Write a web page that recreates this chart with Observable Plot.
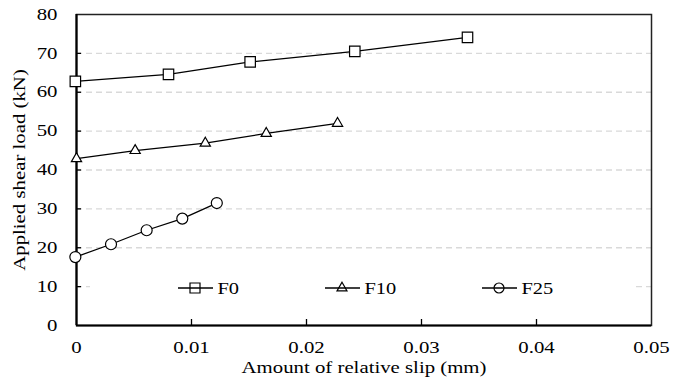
<!DOCTYPE html>
<html><head><meta charset="utf-8">
<script src="https://cdn.jsdelivr.net/npm/d3@7"></script>
<script src="https://cdn.jsdelivr.net/npm/@observablehq/plot@0.6"></script>
<style>
html,body{margin:0;padding:0;background:#fff;}
#wrap{position:relative;width:679px;height:383px;}
#legend{position:absolute;left:90px;top:274px;}
</style></head><body><div id="wrap"></div>
<script>
// ---- data ----
const seriesNames = ["F0", "F10", "F25"];
const seriesSymbols = ["square", "triangle", "circle"];
const f0Slip = [-0.0001, 0.0080, 0.0151, 0.0242, 0.0340];
const f0Load = [62.8, 64.6, 67.8, 70.5, 74.1];
const f10Slip = [0, 0.0051, 0.0112, 0.0165, 0.0227];
const f10Load = [42.9, 45.0, 46.9, 49.4, 52.0];
const f25Slip = [-0.0001, 0.0030, 0.0061, 0.0092, 0.0122];
const f25Load = [17.6, 20.9, 24.5, 27.5, 31.5];
const xTicks = [0, 0.01, 0.02, 0.03, 0.04, 0.05];
const xTickLabels = ["0", "0.01", "0.02", "0.03", "0.04", "0.05"];
const yTicks = [0, 10, 20, 30, 40, 50, 60, 70, 80];
const yTickLabels = ["0", "10", "20", "30", "40", "50", "60", "70", "80"];
const xTitle = "Amount of relative slip (mm)";
const yTitle = "Applied shear load (kN)";

// ---- table ----
const rows = [];
[[f0Slip, f0Load], [f10Slip, f10Load], [f25Slip, f25Load]].forEach(([xs, ys], i) =>
  xs.forEach((x, j) => rows.push({series: seriesNames[i], slip: x, load: ys[j]})));

const W = 679, H = 383, mL = 76, mR = 28, mT = 14, mB = 58;
const font = "'Liberation Serif', 'Times New Roman', serif";
const dotR = {square: 5.9, triangle: 3.8, circle: 5.5};
const inner = v => v > yTicks[0] && v < yTicks[yTicks.length - 1];
const innerX = v => v > xTicks[0] && v < xTicks[xTicks.length - 1];
const txt = {fontSize: 16, fill: "#000", lineAnchor: "middle"};

const chart = Plot.plot({
  width: W, height: H,
  marginLeft: mL, marginRight: mR, marginTop: mT, marginBottom: mB,
  style: {fontFamily: font, fontSize: "16px", background: "#fff", color: "#000"},
  x: {domain: [xTicks[0], xTicks[xTicks.length - 1]], axis: null},
  y: {domain: [yTicks[0], yTicks[yTicks.length - 1]], axis: null},
  marks: [
    Plot.ruleY(yTicks.filter(inner), {y: d => d, stroke: "#d9d9d9", strokeWidth: 1.3, strokeDasharray: "6,4"}),
    Plot.frame({stroke: "#222", strokeWidth: 1.5}),
    Plot.ruleX([xTicks[0]], {x: d => d, stroke: "#000", strokeWidth: 2.2}),
    Plot.ruleY([yTicks[0]], {y: d => d, stroke: "#000", strokeWidth: 2.2}),
    Plot.tickX(xTicks.filter(innerX), {x: d => d, stroke: "#000", strokeWidth: 1.3, insetTop: (H - mT - mB) - 6}),
    Plot.tickY(yTicks.filter(inner), {y: d => d, stroke: "#000", strokeWidth: 1.3, insetRight: (W - mL - mR) - 5}),
    Plot.text(xTicks, {x: d => d, text: (d, i) => xTickLabels[i], frameAnchor: "bottom", textAnchor: "middle", dy: 22, ...txt}),
    Plot.text(yTicks, {y: d => d, text: (d, i) => yTickLabels[i], frameAnchor: "left", textAnchor: "end", dx: -19, ...txt}),
    Plot.text([xTitle], {frameAnchor: "bottom", textAnchor: "middle", dy: 42, ...txt}),
    Plot.text([yTitle], {frameAnchor: "left", textAnchor: "middle", rotate: -90, dx: -57, ...txt}),
    Plot.line(rows, {x: "slip", y: "load", z: "series", stroke: "#000", strokeWidth: 1.3}),
    ...seriesNames.map((name, i) =>
      Plot.dot(rows.filter(r => r.series === name), {
        x: "slip", y: "load", symbol: seriesSymbols[i], r: dotR[seriesSymbols[i]],
        fill: "#fff", stroke: "#000", strokeWidth: 1.2
      }))
  ]
});
const wrap = document.getElementById("wrap");
wrap.appendChild(chart);

// ---- legend (inside plot area, white box) ----
const symType = {square: d3.symbolSquare, triangle: d3.symbolTriangle, circle: d3.symbolCircle};
const symSize = {square: 100, triangle: 43, circle: 78};
const legW = 546, legH = 28, legendX = [88, 235, 392];
const leg = d3.select(wrap).append("svg").attr("id", "legend").attr("width", legW).attr("height", legH);
leg.append("rect").attr("width", legW).attr("height", legH).attr("fill", "#fff");
seriesNames.forEach((n, i) => {
  const g = leg.append("g").attr("transform", `translate(${legendX[i]},${legH / 2})`);
  g.append("line").attr("x1", 0).attr("x2", 35).attr("stroke", "#000").attr("stroke-width", 1.3);
  g.append("path").attr("d", d3.symbol(symType[seriesSymbols[i]], symSize[seriesSymbols[i]])())
    .attr("transform", "translate(17,0)").attr("fill", "none").attr("stroke", "#000").attr("stroke-width", 1.2);
  g.append("text").attr("x", 39.5).attr("dy", "0.35em").attr("fill", "#000")
    .style("font-family", font).style("font-size", "17px").text(n);
});

// widen glyphs like the reference's text rendering
function stretch(root, k) {
  root.querySelectorAll("text").forEach(t => {
    const L = t.getComputedTextLength();
    if (L > 0) {
      t.setAttribute("textLength", (L * k).toFixed(1));
      t.setAttribute("lengthAdjust", "spacingAndGlyphs");
    }
  });
}
stretch(chart, 1.3);
stretch(leg.node(), 1.2);
</script></body></html>
